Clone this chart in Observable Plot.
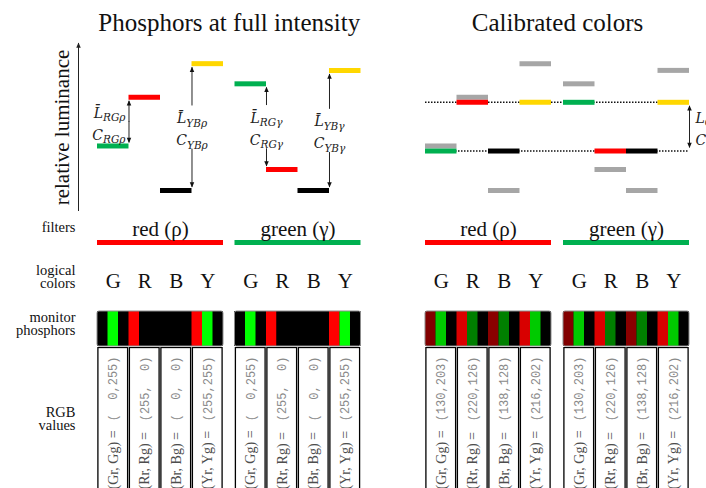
<!DOCTYPE html>
<html>
<head>
<meta charset="utf-8">
<script src="https://cdn.jsdelivr.net/npm/d3@7"></script>
<script src="https://cdn.jsdelivr.net/npm/@observablehq/plot@0.6"></script>
<style>
  html, body { margin: 0; padding: 0; background: #fff; overflow: hidden; width: 706px; height: 488px; }
  #chart svg { display: block; }
</style>
</head>
<body>
<div id="chart"></div>
<script>
// ---- data ----
const titles = ["Phosphors at full intensity", "Calibrated colors"];
const filterNames = ["red (ρ)", "green (γ)"];
const filterSymbols = ["ρ", "γ"];
const logicalColors = ["G", "R", "B", "Y"];
const rowLabels = ["filters", "logical\ncolors", "monitor\nphosphors", "RGB\nvalues"];

// relative luminance of G, R, B, Y at full phosphor intensity, through each filter
const fullLumRed = [0.39, 0.68, 0.125, 0.88];
const fullLumGreen = [0.76, 0.25, 0.125, 0.84];
// relative luminance after calibration (two levels only)
const calibLumRed = [0.36, 0.65, 0.36, 0.65];
const calibLumGreen = [0.65, 0.36, 0.36, 0.65];

// red and green gun values of each logical color
const fullR = [0, 255, 0, 255];
const fullG = [255, 0, 0, 255];
const calibR = [130, 220, 138, 216];
const calibG = [203, 126, 128, 202];
const rgbNames = ["(Gr, Gg) =", "(Rr, Rg) =", "(Br, Bg) =", "(Yr, Yg) ="];

// ---- styles & layout ----
const serif = "'Liberation Serif', 'Times New Roman', serif";
const mathFont = "'DejaVu Serif', serif";
const mono = "'Liberation Mono', 'Courier New', monospace";
const barColor = {G: "#00b050", R: "#ff0000", B: "#000000", Y: "#ffd700"};
const filterColor = ["#ff0000", "#00b050"];
const grayBar = "#a6a6a6";

// left edge of each 4-column group, in column widths
const groupOffsets = [0, 4.365, 10.413, 14.794];
const xMax = groupOffsets[3] + 4;
const X = {domain: [0, xMax], axis: null};
const frame = {width: 706, marginLeft: 97, marginRight: 17};

const lumFull = [fullLumRed, fullLumGreen];
const lumCal = [calibLumRed, calibLumGreen];

const groups = [
  {panel: 0, filter: 0}, {panel: 0, filter: 1},
  {panel: 1, filter: 0}, {panel: 1, filter: 1}
].map((g, i) => ({...g, x0: groupOffsets[i]}));

const cells = groups.flatMap(g => logicalColors.map((c, j) => ({
  panel: g.panel, filter: g.filter, col: c, x: g.x0 + j,
  full: lumFull[g.filter][j],
  lum: g.panel ? lumCal[g.filter][j] : lumFull[g.filter][j],
  r: g.panel ? calibR[j] : fullR[j],
  g: g.panel ? calibG[j] : fullG[j],
  name: rgbNames[j]
})));

const panelCenter = [0, 1].map(p => {
  const gs = groups.filter(g => g.panel === p);
  return (d3.min(gs, g => g.x0) + d3.max(gs, g => g.x0) + 4) / 2;
});

// contrast arrows between logical colors
const arrows = [];
[0, 1].forEach(f => {
  const x0 = groups[f].x0, L = lumFull[f], s = filterSymbols[f];
  [["RG", 1, 0, 1], ["YB", 3, 2, 3]].forEach(([pair, ia, ib, at]) => {
    const a = L[ia], b = L[ib];
    arrows.push({
      x: x0 + at, a, b,
      anchor: Math.abs(a - b) > 0.35 ? "middle" : "end",
      top: "L\u0304_" + pair + s, bottom: "C_" + pair + s
    });
  });
});
const calLevels = d3.sort(d3.union(calibLumRed, calibLumGreen));
arrows.push({x: xMax, a: d3.max(calLevels), b: d3.min(calLevels), anchor: "start", top: "L_C", bottom: "C_C"});
arrows.forEach(d => d.mid = (d.a + d.b) / 2);
const halves = arrows.flatMap(d => [d.a, d.b].map(end => ({
  x: d.x, y1: d.mid, y2: end, gap: d.anchor === "middle", up: end > d.mid
})));

// arrowhead symbols with the tip at the origin
const head = dir => ({
  draw(ctx, size) {
    const r = Math.sqrt(size / Math.PI);
    ctx.moveTo(0, 0);
    ctx.lineTo(-r * 0.9, dir * r * 2.1);
    ctx.lineTo(r * 0.9, dir * r * 2.1);
    ctx.closePath();
  }
});
const headUp = head(1), headDown = head(-1);

const dxFor = {middle: 0, end: -3.5, start: 6};
const labelStyle = {fontSize: 14.5, fontFamily: serif, fill: "#111", textAnchor: "end", lineAnchor: "middle", lineHeight: 0.9};

// ---- luminance panels ----
const lumPlot = Plot.plot({
  ...frame, height: 215, marginTop: 43, marginBottom: 4,
  x: X, y: {domain: [0, 1], axis: null}, color: {type: "identity"},
  marks: [
    Plot.text(titles, {x: (d, i) => panelCenter[i], frameAnchor: "top", lineAnchor: "middle", dy: -21,
      text: d => d, fontSize: 25, fontFamily: serif, fill: "#111"}),
    // luminance axis
    Plot.ruleX([0], {x: 0, y1: 0, y2: 1, dx: -19, stroke: "#222", strokeWidth: 1}),
    Plot.dot([0], {x: 0, y: 1, dx: -19, dy: -1, symbol: headUp, r: 2.5, fill: "#222", stroke: null}),
    Plot.text(["relative luminance"], {frameAnchor: "left", textAnchor: "middle", lineAnchor: "middle",
      dx: -35, rotate: -90, text: d => d, fontSize: 21, fontFamily: serif, fill: "#111"}),
    // calibrated levels
    Plot.ruleY(calLevels, {y: d => d, x1: groupOffsets[2], x2: xMax, stroke: "#111",
      strokeWidth: 1.5, strokeDasharray: "1.5,1.5"}),
    // full-intensity luminance for reference in the calibrated panel
    Plot.ruleY(cells.filter(d => d.panel === 1), {x1: "x", x2: d => d.x + 1, y: "full",
      stroke: grayBar, strokeWidth: 5}),
    Plot.ruleY(cells, {x1: "x", x2: d => d.x + 1, y: "lum", stroke: d => barColor[d.col], strokeWidth: 5}),
    // arrows
    Plot.arrow(halves.filter(d => d.gap), {x1: "x", x2: "x", y1: "y1", y2: "y2", insetStart: 22, insetEnd: 4,
      headLength: 0, stroke: "#222", strokeWidth: 1}),
    Plot.arrow(halves.filter(d => !d.gap), {x1: "x", x2: "x", y1: "y1", y2: "y2", insetEnd: 4,
      headLength: 0, stroke: "#222", strokeWidth: 1}),
    Plot.dot(halves.filter(d => d.up), {x: "x", y: "y2", dy: 3, symbol: headUp, r: 2.5, fill: "#111", stroke: null}),
    Plot.dot(halves.filter(d => !d.up), {x: "x", y: "y2", dy: -3, symbol: headDown, r: 2.5, fill: "#111", stroke: null}),
    ...["middle", "end", "start"].flatMap(anchor => {
      const sel = arrows.filter(d => d.anchor === anchor);
      const common = {x: "x", y: "mid", textAnchor: anchor, lineAnchor: "middle", dx: dxFor[anchor],
        fontFamily: mathFont, fontStyle: "italic", fontSize: 14, fill: "#222"};
      return [
        Plot.text(sel, {...common, text: "top", dy: -8.5}),
        Plot.text(sel, {...common, text: "bottom", dy: 13.5})
      ];
    })
  ]
});

// ---- filters row ----
const filterPlot = Plot.plot({
  ...frame, height: 41, marginTop: 25, marginBottom: 11, x: X,
  marks: [
    Plot.rect(groups, {x1: "x0", x2: d => d.x0 + 4, fill: d => filterColor[d.filter]}),
    Plot.text(groups, {x: d => d.x0 + 2, frameAnchor: "top", lineAnchor: "middle", dy: -11.7,
      text: d => filterNames[d.filter], fontSize: 21, fontFamily: serif, fill: "#111"}),
    Plot.text([rowLabels[0]], {...labelStyle, frameAnchor: "top-left", dx: -22, dy: -12.5, text: d => d})
  ]
});

// ---- logical colors row ----
const logicalPlot = Plot.plot({
  ...frame, height: 44, marginTop: 0, marginBottom: 0, x: X,
  marks: [
    Plot.text(cells, {x: d => d.x + 0.5, frameAnchor: "middle", lineAnchor: "middle", dy: 2.3, text: "col",
      fontSize: 21, fontFamily: serif, fill: "#111"}),
    Plot.text([rowLabels[1]], {...labelStyle, frameAnchor: "left", dx: -22, dy: -1, text: d => d})
  ]
});

// ---- monitor phosphors row: red gun, green gun, blue gun (off) ----
const stripes = cells.flatMap(d => [
  {x1: d.x, x2: d.x + 1 / 3, fill: `rgb(${d.r},0,0)`},
  {x1: d.x + 1 / 3, x2: d.x + 2 / 3, fill: `rgb(0,${d.g},0)`}
]);
const phosphorPlot = Plot.plot({
  ...frame, height: 47, marginTop: 11, marginBottom: 1, x: X, color: {type: "identity"},
  marks: [
    Plot.rect(groups, {x1: "x0", x2: d => d.x0 + 4, fill: "#000"}),
    Plot.rect(stripes, {x1: "x1", x2: "x2", fill: "fill"}),
    Plot.rect(groups, {x1: "x0", x2: d => d.x0 + 4, fill: "none", stroke: "#8c8c8c", strokeWidth: 1, rx: 2}),
    Plot.text([rowLabels[2]], {...labelStyle, frameAnchor: "left", dx: -22, dy: -4.75, text: d => d})
  ]
});

// ---- RGB values row ----
const pad = v => String(v).padStart(3, "\u00a0");
const rgbPlot = Plot.plot({
  ...frame, height: 160, marginTop: 0.5, marginBottom: 0, x: X,
  marks: [
    Plot.rect(cells, {x1: "x", x2: d => d.x + 1, insetLeft: 0.9, insetRight: 0.9, fill: "#fff",
      stroke: "#000", strokeWidth: 1.3}),
    Plot.text(cells, {x: d => d.x + 0.5, frameAnchor: "top", lineAnchor: "middle", dy: 141.5, rotate: -90,
      textAnchor: "start", text: "name", fontSize: 14, fontFamily: serif, fill: "#4d4d4d"}),
    Plot.text(cells, {x: d => d.x + 0.5, frameAnchor: "top", lineAnchor: "middle", dy: 8.5, rotate: -90,
      textAnchor: "end", text: d => `(${pad(d.r)},${pad(d.g)})`, fontSize: 12, fontFamily: mono, fill: "#8a8a8a"}),
    Plot.text([rowLabels[3]], {...labelStyle, frameAnchor: "top-left", dx: -22, dy: 71, text: d => d})
  ]
});

const chart = document.getElementById("chart");
for (const svg of [lumPlot, filterPlot, logicalPlot, phosphorPlot, rgbPlot]) chart.append(svg);

// subscripts: "X_sub" -> X with a lowered, smaller suffix
const NS = "http://www.w3.org/2000/svg";
for (const t of lumPlot.querySelectorAll("text")) {
  const s = t.textContent, i = s.indexOf("_");
  if (i < 0 || t.children.length) continue;
  t.textContent = "";
  const main = document.createElementNS(NS, "tspan");
  main.textContent = s.slice(0, i);
  const sub = document.createElementNS(NS, "tspan");
  sub.textContent = s.slice(i + 1);
  sub.setAttribute("font-size", "10.5");
  sub.setAttribute("dy", "3.5");
  t.append(main, sub);
}
</script>
</body>
</html>
